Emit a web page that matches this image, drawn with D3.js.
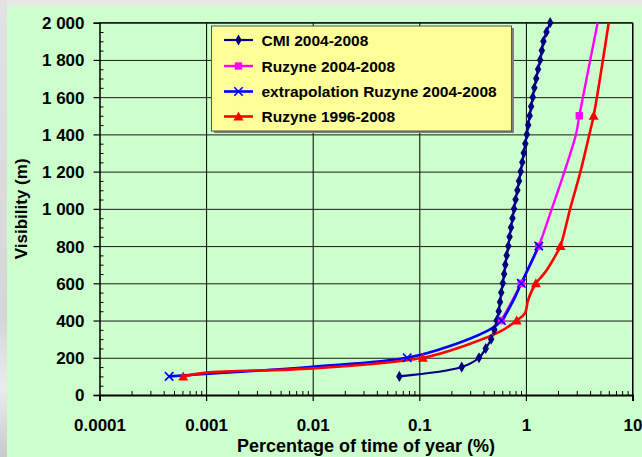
<!DOCTYPE html>
<html>
<head>
<meta charset="utf-8">
<script src="https://cdn.jsdelivr.net/npm/d3@7"></script>
<style>
  html, body { margin: 0; padding: 0; background: #e6e6e6; }
  svg { display: block; }
  text { font-family: "Liberation Sans", Arial, sans-serif; font-weight: bold; fill: #000; }
</style>
</head>
<body>
<svg id="chart" width="642" height="457"></svg>
<script>
// Cumulative visibility occurrence: visibility (m) vs. percentage of time of the year (%)

// CMI 2004-2008
const cmiVis = [100, 150, 200, 250, 300, 350, 400, 450, 500, 550, 600, 650, 700, 750, 800, 850, 900, 950,
  1000, 1050, 1100, 1150, 1200, 1250, 1300, 1350, 1400, 1450, 1500, 1550, 1600, 1650, 1700, 1750, 1800,
  1850, 1900, 1950, 2000];
const cmiPct = [0.065, 0.25, 0.363, 0.42, 0.472, 0.506, 0.532, 0.556, 0.572, 0.587, 0.607, 0.625, 0.641,
  0.66, 0.684, 0.703, 0.725, 0.748, 0.774, 0.8, 0.832, 0.862, 0.894, 0.925, 0.955, 0.988, 1.02, 1.05,
  1.085, 1.12, 1.16, 1.2, 1.25, 1.3, 1.36, 1.41, 1.46, 1.56, 1.69];

// Ruzyne 2004-2008
const ruz04Vis = [400, 600, 800, 1000, 1200, 1400, 1500, 2000];
const ruz04Pct = [0.59, 0.905, 1.32, 1.75, 2.3, 2.95, 3.17, 4.71];
const ruz04Marked = [400, 600, 800, 1500];

// extrapolation Ruzyne 2004-2008
const extVis = [100, 152, 200, 263, 358, 400, 493, 600, 800];
const extPct = [0.00045, 0.01, 0.077, 0.194, 0.478, 0.59, 0.74, 0.905, 1.32];
const extMarked = [100, 200, 400, 600, 800];

// Ruzyne 1996-2008
const ruz96Vis = [100, 120, 143, 200, 269, 340, 400, 439, 511, 600, 627, 672, 762, 800, 1000, 1200,
  1400, 1500, 2000];
const ruz96Pct = [0.00061, 0.001, 0.01, 0.108, 0.279, 0.571, 0.82, 0.98, 1.05, 1.24, 1.36, 1.57, 1.95,
  2.11, 2.6, 3.25, 3.94, 4.32, 5.98];
const ruz96Marked = [100, 200, 400, 600, 800, 1500];

// Axis ticks
const xTickValues = [0.0001, 0.001, 0.01, 0.1, 1, 10];
const xTickLabels = ["0.0001", "0.001", "0.01", "0.1", "1", "10"];
const yTickValues = [0, 200, 400, 600, 800, 1000, 1200, 1400, 1600, 1800, 2000];

const seriesNames = ["CMI 2004-2008", "Ruzyne 2004-2008", "extrapolation Ruzyne 2004-2008", "Ruzyne 1996-2008"];

(function draw() {
  const svg = d3.select("#chart");
  const W = 642, H = 457;

  // backdrop
  const defs = svg.append("defs");
  const g1 = defs.append("linearGradient").attr("id", "sideGrad").attr("x1", 0).attr("y1", 0).attr("x2", 0).attr("y2", 1);
  g1.append("stop").attr("offset", "0%").attr("stop-color", "#e2e2e2");
  g1.append("stop").attr("offset", "70%").attr("stop-color", "#d6d6d6");
  g1.append("stop").attr("offset", "85%").attr("stop-color", "#ececec");
  g1.append("stop").attr("offset", "100%").attr("stop-color", "#c9c9c9");
  svg.append("rect").attr("x", 0).attr("y", 0).attr("width", W).attr("height", H).attr("fill", "#e8e8e8");
  svg.append("rect").attr("x", 0).attr("y", 0).attr("width", 7).attr("height", H).attr("fill", "url(#sideGrad)");
  svg.append("rect").attr("x", 7).attr("y", 6).attr("width", W - 7).attr("height", H - 6).attr("fill", "#ccffcc");

  const pLeft = 99.5, pRight = 632.5, pTop = 22.7, pBottom = 395;
  const x = d3.scaleLog().domain([1e-4, 10]).range([pLeft, pRight]);
  const y = d3.scaleLinear().domain([0, 2000]).range([pBottom, pTop]);

  // gridlines
  const grid = svg.append("g");
  grid.append("g").attr("transform", `translate(0,${pBottom})`)
    .call(d3.axisBottom(x).tickValues(xTickValues.slice(1)).tickSize(-(pBottom - pTop)).tickFormat(""))
    .call(g => g.select(".domain").remove())
    .call(g => g.selectAll("line").attr("stroke", "#000").attr("stroke-width", 1));
  grid.append("g").attr("transform", `translate(${pLeft},0)`)
    .call(d3.axisLeft(y).tickValues(yTickValues.slice(1)).tickSize(-(pRight - pLeft)).tickFormat(""))
    .call(g => g.select(".domain").remove())
    .call(g => g.selectAll("line").attr("stroke", "#1a1a1a").attr("stroke-width", 1));

  // minor ticks
  const xMinor = [];
  for (let e = -4; e < 1; e++) for (let m = 2; m <= 9; m++) xMinor.push(m * Math.pow(10, e));
  svg.append("g").attr("transform", `translate(0,${pBottom})`)
    .call(d3.axisBottom(x).tickValues(xMinor).tickSize(-4).tickFormat(""))
    .call(g => g.select(".domain").remove())
    .call(g => g.selectAll("line").attr("stroke", "#000"));
  const yMinor = d3.range(50, 2000, 50).filter(v => v % 200 !== 0);
  svg.append("g").attr("transform", `translate(${pLeft},0)`)
    .call(d3.axisLeft(y).tickValues(yMinor).tickSize(-4).tickFormat(""))
    .call(g => g.select(".domain").remove())
    .call(g => g.selectAll("line").attr("stroke", "#000"));

  // frame top / right
  svg.append("line").attr("x1", pLeft).attr("x2", pRight).attr("y1", pTop).attr("y2", pTop).attr("stroke", "#000");
  svg.append("line").attr("x1", pRight).attr("x2", pRight).attr("y1", pTop).attr("y2", pBottom).attr("stroke", "#000");

  // main axes
  const fmt = d3.formatLocale({ decimal: ".", thousands: "\u00a0", grouping: [3], currency: ["", ""] }).format(",");
  const fontCss = '"Liberation Sans", Arial, sans-serif';
  svg.append("g").attr("transform", `translate(0,${pBottom})`)
    .call(d3.axisBottom(x).tickValues(xTickValues).tickSize(6).tickFormat((d, i) => xTickLabels[i]))
    .call(g => g.select(".domain").attr("stroke", "#000").attr("stroke-width", 2))
    .call(g => g.selectAll(".tick line").attr("stroke", "#000").attr("stroke-width", 1.2))
    .call(g => g.selectAll("text").attr("y", 36).attr("dy", null)
      .style("font-family", fontCss).style("font-weight", "bold").style("font-size", "17px").attr("fill", "#000"));
  svg.append("g").attr("transform", `translate(${pLeft},0)`)
    .call(d3.axisLeft(y).tickValues(yTickValues).tickSize(6).tickFormat(fmt))
    .call(g => g.select(".domain").attr("stroke", "#000").attr("stroke-width", 1.5))
    .call(g => g.selectAll(".tick line").attr("stroke", "#000").attr("stroke-width", 1.2))
    .call(g => g.selectAll("text").attr("x", -15).attr("dy", "0.35em")
      .style("font-family", fontCss).style("font-weight", "bold").style("font-size", "17px").attr("fill", "#000"));

  // axis titles
  svg.append("text").attr("x", (pLeft + pRight) / 2).attr("y", 451.5).attr("text-anchor", "middle")
    .style("font-size", "18px").text("Percentage of time of year  (%)");
  svg.append("text").attr("transform", `translate(26.5,${(pTop + pBottom) / 2}) rotate(-90)`).attr("text-anchor", "middle")
    .style("font-size", "17px").text("Visibility  (m)");

  // marker painters
  function diamond(g, cx, cy, color) {
    g.append("path").attr("d", d3.symbol(d3.symbolDiamond, 36)()).attr("transform", `translate(${cx},${cy})`).attr("fill", color);
  }
  function square(g, cx, cy, color) {
    g.append("rect").attr("x", cx - 3.7).attr("y", cy - 3.7).attr("width", 7.4).attr("height", 7.4).attr("fill", color);
  }
  function cross(g, cx, cy, color) {
    g.append("path").attr("d", `M${cx - 4.2},${cy - 4.2}L${cx + 4.2},${cy + 4.2}M${cx - 4.2},${cy + 4.2}L${cx + 4.2},${cy - 4.2}`)
      .attr("stroke", color).attr("stroke-width", 1.6).attr("fill", "none");
  }
  function triangle(g, cx, cy, color) {
    g.append("path").attr("d", `M${cx},${cy - 5}L${cx + 5},${cy + 4}L${cx - 5},${cy + 4}Z`).attr("fill", color);
  }

  const series = [
    { name: seriesNames[0], vis: cmiVis, pct: cmiPct, marked: cmiVis, color: "#000080", width: 2.2, marker: diamond, curve: d3.curveCatmullRom },
    { name: seriesNames[1], vis: ruz04Vis, pct: ruz04Pct, marked: ruz04Marked, color: "#ff00ff", width: 2.4, marker: square, curve: d3.curveCatmullRom },
    { name: seriesNames[2], vis: extVis, pct: extPct, marked: extMarked, color: "#0000ff", width: 2.6, marker: cross, curve: d3.curveCatmullRom },
    { name: seriesNames[3], vis: ruz96Vis, pct: ruz96Pct, marked: ruz96Marked, color: "#ff0000", width: 2.6, marker: triangle, curve: d3.curveCatmullRom }
  ];

  svg.append("clipPath").attr("id", "plotClip").append("rect")
    .attr("x", pLeft).attr("y", pTop).attr("width", pRight - pLeft).attr("height", pBottom - pTop);
  const plot = svg.append("g").attr("clip-path", "url(#plotClip)");

  series.forEach(s => {
    const pts = s.vis.map((v, i) => [x(s.pct[i]), y(v)]);
    plot.append("path").attr("d", d3.line().curve(s.curve)(pts))
      .attr("fill", "none").attr("stroke", s.color).attr("stroke-width", s.width).attr("stroke-linejoin", "round");
    const mg = svg.append("g");
    s.vis.forEach((v, i) => {
      if (s.marked.includes(v)) s.marker(mg, x(s.pct[i]), y(v), s.color);
    });
  });

  // legend
  const lg = svg.append("g");
  lg.append("rect").attr("x", 214).attr("y", 28).attr("width", 300).attr("height", 105).attr("fill", "#7f7f7f");
  lg.append("rect").attr("x", 211.5).attr("y", 26).attr("width", 300).attr("height", 105)
    .attr("fill", "#ffff99").attr("stroke", "#555").attr("stroke-width", 1);
  const legY = [40, 66, 91.5, 116.5];
  series.forEach((s, i) => {
    lg.append("line").attr("x1", 224).attr("x2", 253).attr("y1", legY[i]).attr("y2", legY[i])
      .attr("stroke", s.color).attr("stroke-width", s.width);
    s.marker(lg, 238.5, legY[i], s.color);
    lg.append("text").attr("x", 261.5).attr("y", legY[i] + 5.5).style("font-size", "15.5px").text(s.name);
  });
})();
</script>
</body>
</html>
